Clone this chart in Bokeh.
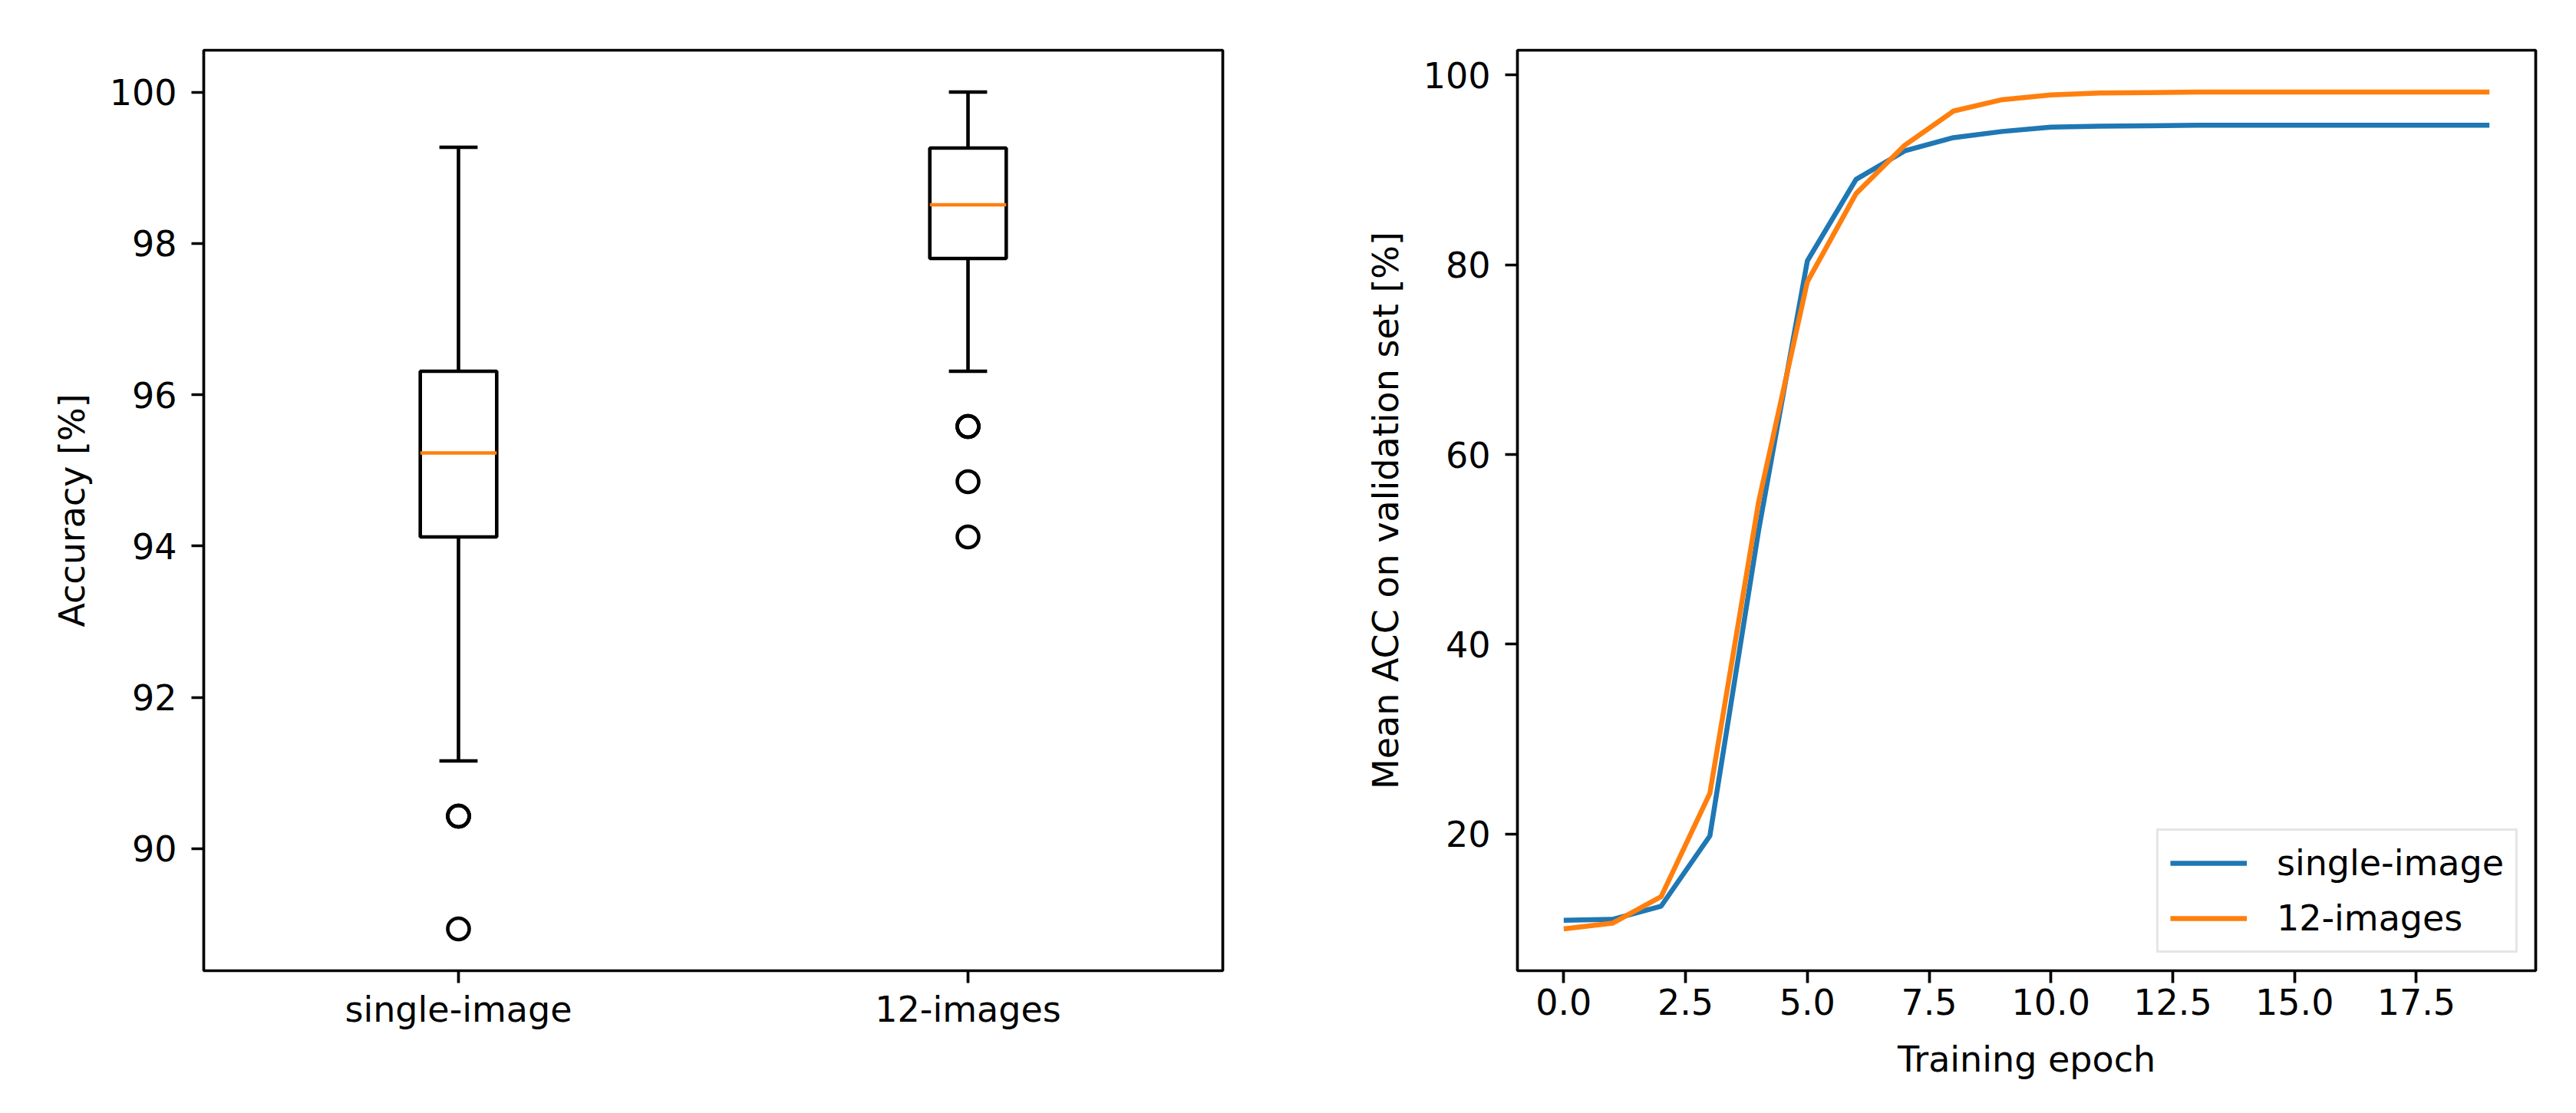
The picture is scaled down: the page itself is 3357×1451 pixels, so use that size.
from bokeh.plotting import figure
from bokeh.layouts import row
from bokeh.models import Range1d, FixedTicker, NumeralTickFormatter, Legend, LegendItem
from bokeh.embed import file_html
from bokeh.resources import INLINE

# ---------------- data ----------------
categories = ["single-image", "12-images"]
q1 = [94.12, 97.80]
median = [95.23, 98.51]
q3 = [96.31, 99.26]
whisker_low = [91.16, 96.31]
whisker_high = [99.27, 100.0]
outliers_single = [90.43, 90.43, 90.43, 88.94]
outliers_twelve = [95.58, 95.58, 95.58, 94.85, 94.12]
box_ticks = [90, 92, 94, 96, 98, 100]

epochs = list(range(20))
acc_single = [10.9, 11.0, 12.4, 19.8, 52.0, 80.4, 89.0, 92.0, 93.4, 94.05,
              94.5, 94.6, 94.65, 94.7, 94.7, 94.7, 94.7, 94.7, 94.7, 94.7]
acc_twelve = [10.0, 10.6, 13.4, 24.3, 55.0, 78.2, 87.5, 92.6, 96.2, 97.4,
              97.9, 98.1, 98.15, 98.2, 98.2, 98.2, 98.2, 98.2, 98.2, 98.2]
line_xticks = [0, 2.5, 5, 7.5, 10, 12.5, 15, 17.5]
line_yticks = [20, 40, 60, 80, 100]

# ---------------- style ----------------
FONT = "DejaVu Sans"
FS = "46px"
BLUE = "#1f77b4"
ORANGE = "#ff7f0e"


def style(p):
    p.outline_line_color = "black"
    p.outline_line_width = 3.7
    p.outline_line_alpha = 1.0
    p.xgrid.visible = False
    p.ygrid.visible = False
    p.background_fill_color = "white"
    p.border_fill_color = "white"
    for ax in p.axis:
        ax.axis_line_color = None
        ax.major_tick_line_width = 3.7
        ax.major_tick_line_color = "black"
        ax.major_tick_out = 16
        ax.major_tick_in = 0
        ax.minor_tick_line_color = None
        ax.major_label_text_font = FONT
        ax.major_label_text_font_size = FS
        ax.major_label_text_color = "black"
        ax.axis_label_text_font = FONT
        ax.axis_label_text_font_size = FS
        ax.axis_label_text_font_style = "normal"
        ax.axis_label_text_color = "black"
    for ax in p.xaxis:
        ax.major_label_standoff = 7
        ax.axis_label_standoff = 28
    for ax in p.yaxis:
        ax.major_label_standoff = 19
        ax.axis_label_standoff = 19


# ---------------- box plot ----------------
positions = [i + 1 for i in range(len(categories))]
all_vals = whisker_low + whisker_high + outliers_single + outliers_twelve
lo, hi = min(all_vals), max(all_vals)
pad = 0.05 * (hi - lo)

p1 = figure(frame_width=1328, frame_height=1200,
            min_border_left=265, min_border_top=65, min_border_right=40, min_border_bottom=165,
            x_range=Range1d(0.5, len(categories) + 0.5), y_range=Range1d(lo - pad, hi + pad),
            output_backend="svg", toolbar_location=None)

half = 0.075
lw = 4.6
p1.segment(x0=positions, y0=q3, x1=positions, y1=whisker_high, line_color="black", line_width=lw)
p1.segment(x0=positions, y0=q1, x1=positions, y1=whisker_low, line_color="black", line_width=lw)
p1.segment(x0=[x - half / 2 for x in positions], y0=whisker_high,
           x1=[x + half / 2 for x in positions], y1=whisker_high, line_color="black", line_width=lw)
p1.segment(x0=[x - half / 2 for x in positions], y0=whisker_low,
           x1=[x + half / 2 for x in positions], y1=whisker_low, line_color="black", line_width=lw)
p1.quad(left=[x - half for x in positions], right=[x + half for x in positions],
        bottom=q1, top=q3, fill_color="white", line_color="black", line_width=lw)
p1.segment(x0=[x - half for x in positions], y0=median,
           x1=[x + half for x in positions], y1=median, line_color=ORANGE, line_width=lw)
out_x = [positions[0]] * len(outliers_single) + [positions[1]] * len(outliers_twelve)
out_y = outliers_single + outliers_twelve
p1.scatter(x=out_x, y=out_y, marker="circle", size=28, fill_color=None,
           line_color="black", line_width=lw)

p1.yaxis.axis_label = "Accuracy [%]"
style(p1)
p1.xaxis.ticker = FixedTicker(ticks=positions)
p1.xaxis.major_label_overrides = {pos: cat for pos, cat in zip(positions, categories)}
p1.yaxis.ticker = FixedTicker(ticks=box_ticks)

# ---------------- line plot ----------------
ymin = min(acc_single + acc_twelve)
ymax = max(acc_single + acc_twelve)
ypad = 0.05 * (ymax - ymin)
xpad = 0.05 * (epochs[-1] - epochs[0])

p2 = figure(frame_width=1327, frame_height=1200,
            min_border_left=344, min_border_top=65, min_border_right=20, min_border_bottom=165,
            x_range=Range1d(epochs[0] - xpad, epochs[-1] + xpad),
            y_range=Range1d(ymin - ypad, ymax + ypad),
            output_backend="svg", toolbar_location=None)

r1 = p2.line(epochs, acc_single, line_color=BLUE, line_width=6.5)
r2 = p2.line(epochs, acc_twelve, line_color=ORANGE, line_width=6.5)

p2.xaxis.axis_label = "Training epoch"
p2.yaxis.axis_label = "Mean ACC on validation set [%]"
style(p2)
p2.xaxis.ticker = FixedTicker(ticks=line_xticks)
p2.xaxis.formatter = NumeralTickFormatter(format="0.0")
p2.yaxis.ticker = FixedTicker(ticks=line_yticks)

legend = Legend(items=[LegendItem(label="single-image", renderers=[r1]),
                       LegendItem(label="12-images", renderers=[r2])],
                location="bottom_right")
legend.label_text_font = FONT
legend.label_text_font_size = FS
legend.label_text_color = "black"
legend.glyph_width = 100
legend.glyph_height = 46
legend.label_height = 46
legend.label_standoff = 39
legend.spacing = 18
legend.padding = 15
legend.margin = 23
legend.border_line_color = "#cccccc"
legend.border_line_width = 3.7
legend.background_fill_color = "white"
legend.background_fill_alpha = 0.8
p2.add_layout(legend)

layout = row(p1, p2)
open("out.html", "w").write(file_html(layout, INLINE))
